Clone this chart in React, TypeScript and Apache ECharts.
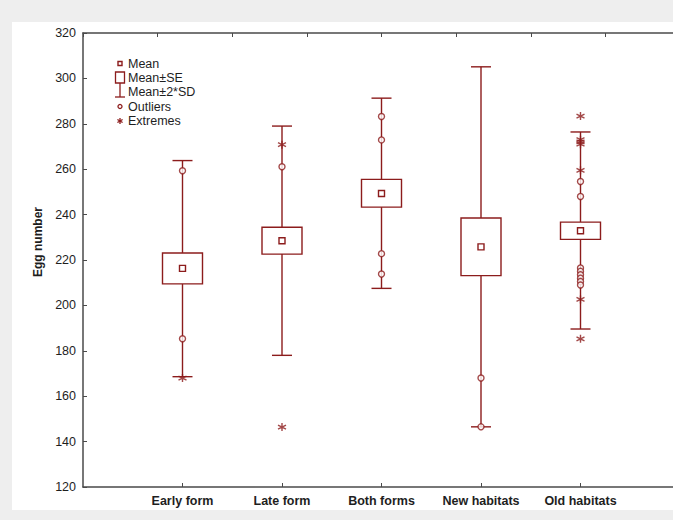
import React, { useEffect, useRef } from 'react';
import * as echarts from 'echarts';

const categories = ['Early form', 'Late form', 'Both forms', 'New habitats', 'Old habitats'];
const means = [216.3, 228.5, 249.3, 225.8, 232.9];
const seLow = [209.5, 222.6, 243.3, 213.1, 229.1];
const seHigh = [223.1, 234.4, 255.5, 238.5, 236.7];
const sdLow = [168.6, 178.0, 207.5, 146.5, 189.6];
const sdHigh = [263.8, 279.0, 291.3, 305.1, 276.4];
const outlierValues: number[][] = [
  [259.3, 185.3],
  [261.1],
  [283.2, 272.9, 222.8, 213.8],
  [168.0, 146.5],
  [254.6, 248.0, 216.5, 215.0, 213.5, 212.0, 210.5, 209.0],
];
const extremeValues: number[][] = [
  [168.0],
  [270.8, 146.4],
  [],
  [],
  [283.4, 273.0, 272.0, 271.0, 259.5, 202.6, 185.3],
];
const yTicks = { min: 120, max: 320, step: 20 };
const legendLabels = ['Mean', 'Mean±SE', 'Mean±2*SD', 'Outliers', 'Extremes'];

const RED = '#8c1c1c';
const AXIS = '#4a4a4a';
const TEXT = '#1e1e1e';
const FONT = "'Liberation Sans', Arial, sans-serif";

const ASTERISK = 'path://M5 0 L5 10 M0.67 2.5 L9.33 7.5 M0.67 7.5 L9.33 2.5';

function buildOption() {
  const boxData = categories.map((_, i) => [i + 1, means[i], seLow[i], seHigh[i], sdLow[i], sdHigh[i]]);
  const outData: number[][] = [];
  outlierValues.forEach((arr, i) => arr.forEach((v) => outData.push([i + 1, v])));
  const extData: number[][] = [];
  extremeValues.forEach((arr, i) => arr.forEach((v) => extData.push([i + 1, v])));

  const lx = 120;
  const lt = 128;
  const legendGraphic: any[] = [
    { type: 'rect', z: 100, shape: { x: 640, y: 36, width: 60, height: 448 }, style: { fill: '#ffffff', stroke: 'none' } },
    { type: 'rect', shape: { x: lx - 2, y: 61.5, width: 4, height: 4 }, style: { stroke: RED, fill: 'none', lineWidth: 1.4 } },
    { type: 'rect', shape: { x: lx - 4.5, y: 72, width: 9, height: 11 }, style: { stroke: RED, fill: 'none', lineWidth: 1.3 } },
    { type: 'line', shape: { x1: lx, y1: 83, x2: lx, y2: 97 }, style: { stroke: RED, lineWidth: 1.3 } },
    { type: 'line', shape: { x1: lx - 5, y1: 97, x2: lx + 5, y2: 97 }, style: { stroke: RED, lineWidth: 1.3 } },
    { type: 'circle', shape: { cx: lx, cy: 106.5, r: 2 }, style: { stroke: RED, fill: 'none', lineWidth: 1.3 } },
    { type: 'line', shape: { x1: lx, y1: 118, x2: lx, y2: 124 }, style: { stroke: RED, lineWidth: 1.3 } },
    { type: 'line', shape: { x1: lx - 2.6, y1: 119.5, x2: lx + 2.6, y2: 122.5 }, style: { stroke: RED, lineWidth: 1.3 } },
    { type: 'line', shape: { x1: lx - 2.6, y1: 122.5, x2: lx + 2.6, y2: 119.5 }, style: { stroke: RED, lineWidth: 1.3 } },
  ];
  const legendY = [63.5, 78, 91.5, 106.5, 121];
  legendLabels.forEach((t, i) => {
    legendGraphic.push({
      type: 'text',
      x: lt,
      y: legendY[i],
      style: { text: t, fill: TEXT, font: `12.5px ${FONT}`, align: 'left', verticalAlign: 'middle' },
    });
  });
  legendGraphic.push({
    type: 'text',
    x: 38,
    y: 242,
    rotation: Math.PI / 2,
    style: { text: 'Egg number', fill: TEXT, font: `bold 12px ${FONT}`, align: 'center', verticalAlign: 'middle' },
  });

  return {
    animation: false,
    backgroundColor: 'transparent',
    textStyle: { fontFamily: FONT },
    grid: { left: 83, top: 33, width: 597, height: 454, containLabel: false },
    xAxis: [
      {
        type: 'value',
        min: 0,
        max: 6,
        interval: 1,
        position: 'bottom',
        axisLine: { show: true, onZero: false, lineStyle: { color: AXIS, width: 1.5 } },
        axisTick: { show: true, inside: true, length: 4, lineStyle: { color: AXIS } },
        splitLine: { show: false },
        axisLabel: {
          color: TEXT,
          fontWeight: 'bold',
          fontSize: 12.5,
          fontFamily: FONT,
          margin: 7,
          showMinLabel: false,
          showMaxLabel: false,
          formatter: (v: number) => categories[v - 1] ?? '',
        },
      },
      {
        type: 'value',
        min: 0,
        max: 6,
        interval: 0.75,
        position: 'top',
        axisLine: { show: true, onZero: false, lineStyle: { color: AXIS, width: 1.5 } },
        axisTick: { show: true, inside: true, length: 4, lineStyle: { color: AXIS } },
        splitLine: { show: false },
        axisLabel: { show: false },
      },
    ],
    yAxis: [
      {
        type: 'value',
        min: yTicks.min,
        max: yTicks.max,
        interval: yTicks.step,
        axisLine: { show: true, onZero: false, lineStyle: { color: AXIS, width: 1.5 } },
        axisTick: { show: true, inside: true, length: 4, lineStyle: { color: AXIS } },
        splitLine: { show: false },
        axisLabel: { color: TEXT, fontSize: 12.5, fontFamily: FONT, margin: 7 },
      },
    ],
    graphic: legendGraphic,
    series: [
      {
        type: 'custom',
        xAxisIndex: 0,
        yAxisIndex: 0,
        data: boxData,
        encode: { x: 0, y: [1, 2, 3, 4, 5] },
        renderItem: (params: any, api: any) => {
          const x = api.value(0);
          const c = (v: number) => api.coord([x, v]);
          const pm = c(api.value(1));
          const pL = c(api.value(2));
          const pH = c(api.value(3));
          const sL = c(api.value(4));
          const sH = c(api.value(5));
          const cx = pm[0];
          const bw = 40;
          const cw = 20;
          const ms = 6;
          const st = { stroke: RED, lineWidth: 1.4, fill: 'none' };
          return {
            type: 'group',
            children: [
              { type: 'line', shape: { x1: cx, y1: sH[1], x2: cx, y2: pH[1] }, style: st },
              { type: 'line', shape: { x1: cx, y1: pL[1], x2: cx, y2: sL[1] }, style: st },
              { type: 'line', shape: { x1: cx - cw / 2, y1: sH[1], x2: cx + cw / 2, y2: sH[1] }, style: st },
              { type: 'line', shape: { x1: cx - cw / 2, y1: sL[1], x2: cx + cw / 2, y2: sL[1] }, style: st },
              { type: 'rect', shape: { x: cx - bw / 2, y: pH[1], width: bw, height: pL[1] - pH[1] }, style: { ...st, fill: '#fff' } },
              { type: 'rect', shape: { x: cx - ms / 2, y: pm[1] - ms / 2, width: ms, height: ms }, style: st },
            ],
          };
        },
      },
      {
        type: 'scatter',
        name: 'Outliers',
        data: outData,
        symbol: 'circle',
        symbolSize: 6,
        itemStyle: { color: '#fff', borderColor: RED, borderWidth: 1.4 },
        z: 3,
      },
      {
        type: 'scatter',
        name: 'Extremes',
        data: extData,
        symbol: ASTERISK,
        symbolSize: 8,
        itemStyle: { color: 'transparent', borderColor: RED, borderWidth: 1.4 },
        z: 4,
      },
    ],
  };
}

export default function App() {
  const ref = useRef<HTMLDivElement>(null);
  useEffect(() => {
    const chart = echarts.init(ref.current!, null, { renderer: 'svg' });
    chart.setOption(buildOption() as any);
    return () => chart.dispose();
  }, []);
  return (
    <div style={{ position: 'fixed', left: 0, top: 0, width: 673, height: 520, background: '#eeeeee', overflow: 'hidden' }}>
      <div style={{ position: 'absolute', left: 12, top: 22, width: 661, height: 488, background: '#ffffff' }} />
      <div ref={ref} style={{ position: 'absolute', left: 0, top: 0, width: 700, height: 520 }} />
    </div>
  );
}
